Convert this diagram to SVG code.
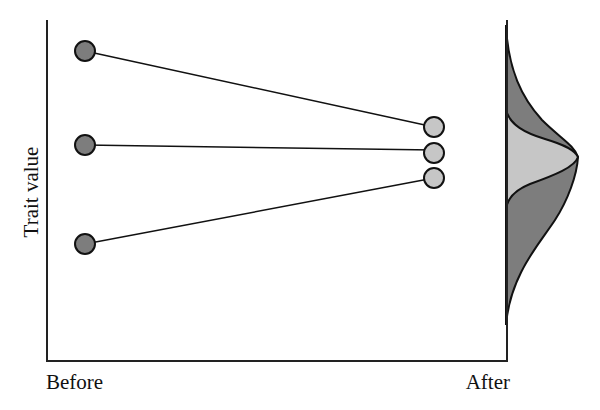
<svg xmlns="http://www.w3.org/2000/svg" width="600" height="410" viewBox="0 0 600 410">
<style>
.axis{fill:none;stroke:#222;stroke-width:2}
.conn{stroke:#111;stroke-width:1.5;fill:none}
.dark{fill:#7d7d7d;stroke:#111;stroke-width:2}
.light{fill:#c6c6c6;stroke:#111;stroke-width:2}
.lbl{font-family:"Liberation Serif",serif;font-size:21px;fill:#111}
</style>
<rect width="600" height="410" fill="#fff"/>
<g id="distribution">
<path class="dark" d="M506,25 C508,70 522,98 542,120 C560,138 574,145 578,157 C577,175 568,200 555,220 C540,243 510,275 506,325 Z"/>
<path class="light" d="M506,110 C510,125 525,133 545,139 C565,145 575,150 578,157 C575,167 555,175 530,184 C515,190 507,198 506,210 Z"/>
</g>
<g id="axes">
<path class="axis" d="M47,20 V361 H507 V20"/>
</g>
<g id="connectors">
<line class="conn" x1="85" y1="51" x2="434" y2="127"/>
<line class="conn" x1="85" y1="145" x2="434" y2="150"/>
<line class="conn" x1="85" y1="244" x2="434" y2="178"/>
</g>
<g id="before-1"><circle class="dark" cx="85" cy="51" r="10"/></g>
<g id="before-2"><circle class="dark" cx="85" cy="145" r="10"/></g>
<g id="before-3"><circle class="dark" cx="85" cy="244" r="10"/></g>
<g id="after-1"><circle class="light" cx="434" cy="127" r="10"/></g>
<g id="after-2"><circle class="light" cx="434" cy="153" r="10"/></g>
<g id="after-3"><circle class="light" cx="434" cy="178" r="10"/></g>
<text class="lbl" x="46" y="389">Before</text>
<text class="lbl" x="510" y="389" text-anchor="end">After</text>
<text class="lbl" transform="translate(38,192) rotate(-90)" text-anchor="middle">Trait value</text>
</svg>
